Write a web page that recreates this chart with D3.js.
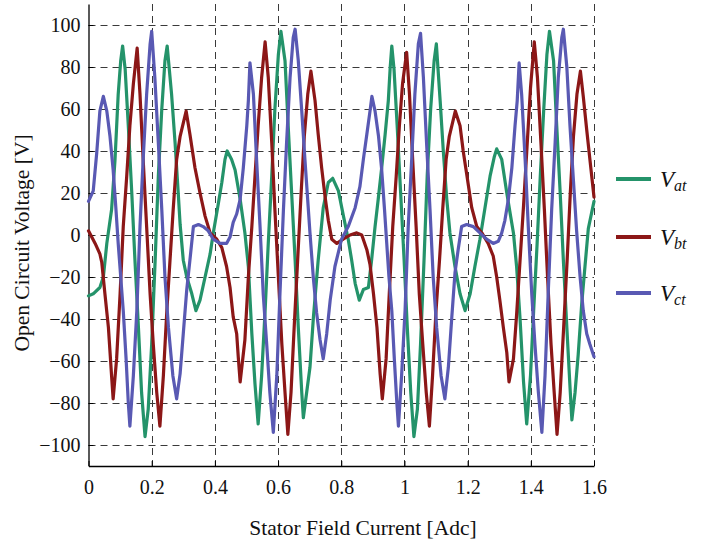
<!DOCTYPE html>
<html>
<head>
<meta charset="utf-8">
<script src="https://cdn.jsdelivr.net/npm/d3@7"></script>
<style>
  html, body { margin: 0; padding: 0; background: #fff; }
  svg { display: block; }
  text { font-family: "Liberation Serif", "Times New Roman", serif; fill: #111; }
</style>
</head>
<body>
<svg id="chart" width="705" height="546"></svg>
<script>
// ---------------- data ----------------
const xTicks = [0, 0.2, 0.4, 0.6, 0.8, 1, 1.2, 1.4, 1.6];
const yTicks = [-100, -80, -60, -40, -20, 0, 20, 40, 60, 80, 100];
const seriesNames = ["at", "bt", "ct"];
const seriesColors = ["#24936a", "#8c1717", "#5959b3"];

// [current (Adc), voltage (V)]
const vat = [
  [0,-29],[0.015,-28],[0.036,-25],[0.047,-20],[0.058,-4],[0.073,12],[0.084,36],[0.094,67],[0.102,83],[0.108,90],
  [0.116,79],[0.126,52],[0.137,20],[0.147,-12],[0.158,-44],[0.168,-75],[0.179,-96],
  [0.189,-83],[0.200,-52],[0.211,-12],[0.221,28],[0.232,60],[0.242,83],[0.249,90],
  [0.263,67],[0.274,44],[0.284,20],[0.290,5],[0.300,-12],[0.311,-20],[0.327,-28],[0.340,-36],
  [0.353,-31],[0.369,-20],[0.385,-9],[0.395,1],[0.411,15],[0.422,25],[0.432,36],[0.439,40],
  [0.453,36],[0.464,31],[0.480,17],[0.495,1],[0.506,-15],[0.517,-47],[0.527,-71],[0.537,-90],
  [0.548,-67],[0.559,-36],[0.569,-4],[0.580,28],[0.590,60],[0.601,86],[0.609,97],
  [0.622,83],[0.632,52],[0.643,20],[0.654,-12],[0.664,-44],[0.675,-75],[0.680,-87],
  [0.701,-63],[0.712,-39],[0.727,-12],[0.743,13],[0.759,25],[0.773,27],
  [0.791,21],[0.807,9],[0.822,-2],[0.833,-12],[0.844,-23],[0.857,-31],
  [0.870,-26],[0.886,-25],[0.896,-12],[0.907,4],[0.917,17],[0.928,32],[0.939,48],[0.949,64],[0.955,80],[0.960,90],
  [0.967,79],[0.977,52],[0.988,20],[0.999,-12],[1.009,-44],[1.020,-75],[1.030,-96],
  [1.041,-83],[1.051,-52],[1.062,-12],[1.072,28],[1.083,60],[1.094,83],[1.101,91],
  [1.113,64],[1.123,40],[1.134,17],[1.144,1],[1.160,-15],[1.176,-28],[1.192,-36],
  [1.208,-28],[1.223,-15],[1.239,-2],[1.255,13],[1.271,28],[1.284,37],[1.292,41],
  [1.308,36],[1.324,20],[1.336,9],[1.345,1],[1.355,-15],[1.366,-40],[1.377,-70],[1.387,-90],
  [1.399,-67],[1.409,-36],[1.420,-4],[1.430,28],[1.441,60],[1.451,86],[1.459,97],
  [1.472,83],[1.482,52],[1.493,20],[1.503,-12],[1.514,-44],[1.525,-75],[1.530,-88],
  [1.540,-75],[1.550,-57],[1.561,-33],[1.572,-14],[1.582,3],[1.600,16]
];

const vbt = [
  [0,2],[0.021,-4],[0.036,-9],[0.042,-13],[0.052,-28],[0.063,-44],[0.073,-67],[0.078,-78],
  [0.089,-59],[0.100,-28],[0.110,4],[0.121,28],[0.131,52],[0.142,72],[0.154,89],
  [0.163,67],[0.173,36],[0.184,4],[0.195,-28],[0.205,-52],[0.216,-75],[0.226,-91],
  [0.237,-67],[0.248,-36],[0.258,-12],[0.268,12],[0.279,36],[0.290,47],[0.309,59],
  [0.321,48],[0.337,32],[0.353,20],[0.369,9],[0.385,1],[0.406,-2],[0.422,-6],[0.437,-15],
  [0.448,-25],[0.458,-39],[0.469,-47],[0.474,-58],[0.480,-70],
  [0.495,-50],[0.506,-20],[0.517,4],[0.527,28],[0.537,52],[0.548,75],[0.559,92],
  [0.569,75],[0.580,44],[0.590,12],[0.601,-20],[0.612,-52],[0.622,-75],[0.631,-95],
  [0.641,-75],[0.651,-44],[0.662,-12],[0.673,20],[0.683,47],[0.694,67],[0.704,78],
  [0.717,64],[0.727,48],[0.738,32],[0.749,18],[0.759,7],[0.770,-2],[0.786,-4],[0.806,-2],
  [0.828,0],[0.849,1],[0.865,0],[0.881,-7],[0.891,-14],[0.902,-28],[0.913,-44],[0.923,-66],[0.930,-78],
  [0.942,-59],[0.952,-28],[0.963,4],[0.974,28],[0.984,52],[0.994,72],[1.007,87],
  [1.016,67],[1.026,36],[1.037,4],[1.047,-28],[1.058,-52],[1.069,-75],[1.079,-91],
  [1.089,-67],[1.100,-36],[1.111,-12],[1.121,12],[1.132,36],[1.142,47],[1.161,59],
  [1.176,52],[1.186,40],[1.197,29],[1.213,13],[1.229,4],[1.245,1],[1.265,-4],[1.281,-10],
  [1.292,-20],[1.302,-31],[1.313,-44],[1.324,-56],[1.331,-70],
  [1.345,-59],[1.355,-38],[1.366,-12],[1.377,14],[1.388,42],[1.399,70],[1.411,92],
  [1.421,75],[1.432,44],[1.443,12],[1.453,-20],[1.464,-52],[1.474,-75],[1.483,-95],
  [1.493,-75],[1.504,-44],[1.515,-12],[1.525,20],[1.535,47],[1.546,67],[1.557,78],
  [1.566,66],[1.577,50],[1.587,36],[1.600,18]
];

const vct = [
  [0,16],[0.015,21],[0.026,39],[0.036,59],[0.047,66],
  [0.058,59],[0.068,47],[0.078,31],[0.087,12],[0.094,-4],[0.102,-20],[0.110,-36],[0.119,-59],[0.126,-80],[0.131,-91],
  [0.142,-67],[0.153,-36],[0.163,4],[0.173,36],[0.184,67],[0.195,91],[0.200,97],
  [0.210,75],[0.221,44],[0.232,12],[0.242,-20],[0.253,-44],[0.267,-67],[0.279,-78],
  [0.290,-66],[0.300,-47],[0.311,-26],[0.321,-12],[0.332,4],[0.348,5],[0.363,4],[0.379,2],
  [0.395,-2],[0.416,-4],[0.437,-4],[0.448,-1],[0.458,6],[0.469,10],[0.480,17],[0.490,32],
  [0.501,52],[0.506,64],[0.511,82],
  [0.522,67],[0.532,36],[0.543,4],[0.553,-28],[0.564,-52],[0.574,-75],[0.585,-94],
  [0.596,-67],[0.606,-28],[0.617,12],[0.627,44],[0.638,75],[0.648,94],[0.654,98],
  [0.664,83],[0.675,59],[0.685,36],[0.701,1],[0.712,-21],[0.722,-37],[0.733,-50],[0.743,-59],
  [0.754,-47],[0.765,-31],[0.780,-15],[0.801,-2],[0.822,4],[0.844,13],[0.859,23],[0.870,36],
  [0.881,48],[0.891,59],[0.897,66],
  [0.907,59],[0.918,47],[0.928,31],[0.937,12],[0.944,-4],[0.951,-20],[0.960,-36],[0.968,-59],[0.976,-80],[0.981,-91],
  [0.991,-67],[1.002,-36],[1.012,4],[1.023,36],[1.033,67],[1.044,91],[1.051,96],
  [1.060,75],[1.070,44],[1.081,12],[1.091,-20],[1.102,-44],[1.116,-67],[1.128,-78],
  [1.139,-63],[1.150,-39],[1.160,-18],[1.170,-7],[1.181,4],[1.197,5],[1.218,4],[1.239,1],
  [1.260,-2],[1.281,-4],[1.297,-3],[1.308,1],[1.318,7],[1.329,17],[1.340,32],[1.350,52],[1.357,64],[1.363,82],
  [1.371,67],[1.382,36],[1.392,4],[1.403,-28],[1.413,-52],[1.424,-75],[1.435,-94],
  [1.445,-67],[1.455,-28],[1.466,12],[1.477,44],[1.487,75],[1.498,94],[1.503,98],
  [1.514,80],[1.524,52],[1.534,28],[1.545,2],[1.556,-20],[1.566,-36],[1.577,-47],[1.587,-52],[1.600,-58]
];

const allSeries = [vat, vbt, vct];

// ---------------- chart ----------------
const svg = d3.select("#chart");
const plotL = 88.5, plotR = 594, plotT = 4, plotB = 466;

const x = d3.scaleLinear().domain([0, 1.6]).range([plotL, plotR]);
const y = d3.scaleLinear().domain([-110, 110]).range([plotB, plotT]);

svg.append("rect").attr("width", 705).attr("height", 546).attr("fill", "#fff");

// grid lines
const grid = svg.append("g").attr("stroke", "#3a3a3a").attr("stroke-width", 1)
  .attr("stroke-dasharray", "7,5").attr("fill", "none");
grid.selectAll("line.h").data(yTicks).join("line").attr("class", "h")
  .attr("x1", plotL).attr("x2", plotR)
  .attr("y1", d => Math.round(y(d)) + 0.5).attr("y2", d => Math.round(y(d)) + 0.5);
grid.selectAll("line.v").data(xTicks.filter(d => d > 0)).join("line").attr("class", "v")
  .attr("y1", plotT).attr("y2", plotB)
  .attr("x1", d => Math.round(x(d)) + 0.5).attr("x2", d => Math.round(x(d)) + 0.5);

// axes
const xAxis = d3.axisBottom(x).tickValues(xTicks).tickSizeInner(-5).tickSizeOuter(0).tickPadding(14)
  .tickFormat(d => d3.format("~g")(d));
const gx = svg.append("g").attr("transform", `translate(0,${plotB})`).call(xAxis);
gx.select(".domain").attr("stroke", "#000").attr("stroke-width", 1.3);
gx.selectAll(".tick line").attr("stroke", "#000");
gx.selectAll("text").attr("font-size", 20).attr("font-family", "Liberation Serif").attr("fill", "#111");

const yAxis = d3.axisLeft(y).tickValues(yTicks).tickSizeInner(-5).tickSizeOuter(0).tickPadding(8);
const gy = svg.append("g").attr("transform", `translate(${plotL},0)`).call(yAxis);
gy.select(".domain").attr("stroke", "#000").attr("stroke-width", 1.3);
gy.selectAll(".tick line").attr("stroke", "#000");
gy.selectAll("text").attr("font-size", 20).attr("font-family", "Liberation Serif").attr("fill", "#111");

// series
const lineGen = d3.line().x(d => x(d[0])).y(d => y(d[1])).curve(d3.curveLinear);
allSeries.forEach((s, i) => {
  svg.append("path").datum(s)
    .attr("fill", "none").attr("stroke", seriesColors[i]).attr("stroke-width", 3.2)
    .attr("stroke-linejoin", "round").attr("stroke-linecap", "round")
    .attr("d", lineGen);
});

// axis titles
svg.append("text").attr("x", 363).attr("y", 535).attr("text-anchor", "middle")
  .attr("font-size", 21.5).text("Stator Field Current [Adc]");
svg.append("text").attr("transform", `translate(29,243) rotate(-90)`)
  .attr("text-anchor", "middle").attr("font-size", 21.5).text("Open Circuit Voltage [V]");

// legend
const legY = [179, 237, 293];
seriesNames.forEach((n, i) => {
  const g = svg.append("g");
  g.append("line").attr("x1", 616).attr("x2", 651).attr("y1", legY[i]).attr("y2", legY[i])
    .attr("stroke", seriesColors[i]).attr("stroke-width", 4);
  const t = g.append("text").attr("x", 660).attr("y", legY[i] + 8).attr("font-style", "italic").attr("font-size", 23);
  t.append("tspan").text("V");
  t.append("tspan").attr("font-size", 16).attr("dy", 4).text(n);
});
</script>
</body>
</html>
